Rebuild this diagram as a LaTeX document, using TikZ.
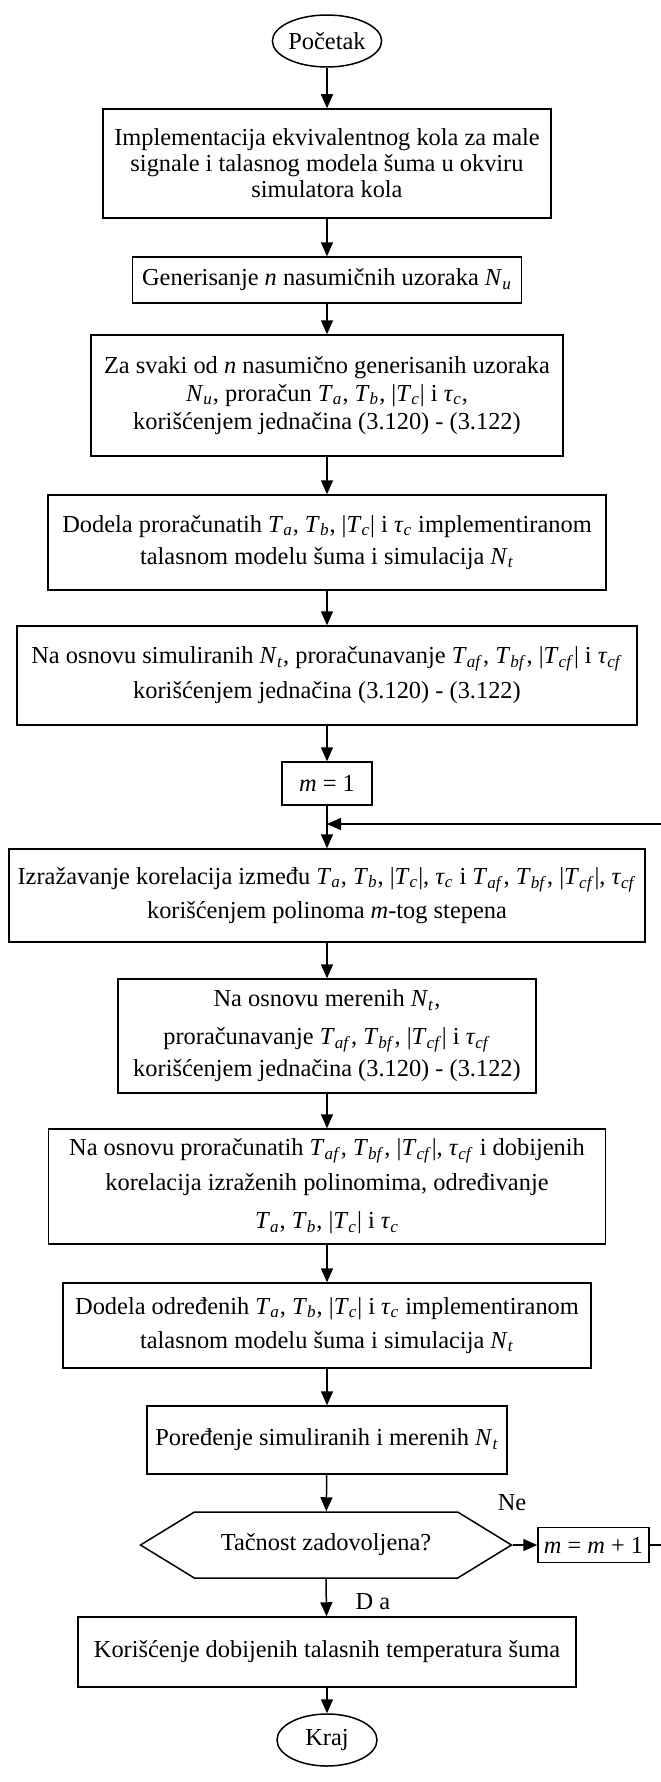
\documentclass[tikz,border=0pt]{standalone}
\usepackage{fontspec}
\setmainfont{Liberation Serif}
\usepackage{tikz}
\usetikzlibrary{arrows.meta,shapes,positioning,calc}

\newcommand{\vsub}[2]{\textit{#1}\textsubscript{\textit{#2}}}

\begin{document}
\begin{tikzpicture}[
            x=0.5pt, y=-0.5pt,
            every node/.style={font=\fontsize{12.2pt}{13pt}\selectfont, align=center, inner sep=0pt},
            box/.style={draw, rectangle, line width=0.75pt},
            term/.style={draw, ellipse, line width=0.75pt, minimum width=50pt, minimum height=26pt},
            decision/.style={draw, signal, signal to=west and east, signal pointer angle=63, line width=0.75pt},
            arr/.style={-{Triangle[length=7pt,width=6pt]}, line width=0.75pt}
        ]

\useasboundingbox (0,0) rectangle (660,1782);

% nodes
            \node[term] (start) at (327,41) {Početak};
            \node[box, minimum width=224pt, minimum height=54.5pt] (b1) at (327,163.5)
                {Implementacija ekvivalentnog kola za male\\ signale i talasnog modela šuma u okviru\\ simulatora kola};
            \node[box, minimum width=194.5pt, minimum height=23pt] (b2) at (327,280)
                {Generisanje \textit{n} nasumičnih uzoraka \vsub{N}{u}};
            \node[box, minimum width=236pt, minimum height=60.5pt] (b3) at (327,395.5)
                {Za svaki od \textit{n} nasumično generisanih uzoraka\\[1pt] \vsub{N}{u}, proračun \vsub{T}{a}, \vsub{T}{b}, |\vsub{T}{c}| i \vsub{τ}{c},\\[1pt] korišćenjem jednačina (3.120) - (3.122)};
            \node[box, minimum width=279pt, minimum height=47.5pt] (b4) at (327,542.5)
                {Dodela proračunatih \vsub{T}{a}, \vsub{T}{b}, |\vsub{T}{c}| i \vsub{τ}{c} implementiranom\\[3pt] talasnom modelu šuma i simulacija \vsub{N}{t}};
            \node[box, minimum width=310pt, minimum height=49.5pt] (b5) at (327,675.5)
                {Na osnovu simuliranih \vsub{N}{t}, proračunavanje \vsub{T}{af}, \vsub{T}{bf}, |\vsub{T}{cf}| i \vsub{τ}{cf}\\[4.5pt] korišćenjem jednačina (3.120) - (3.122)};
            \node[box, minimum width=45pt, minimum height=21.5pt] (b6) at (327,783.5) {\textit{m} = 1};
            \node[box, minimum width=318pt, minimum height=46.5pt] (b7) at (327,895.5)
                {Izražavanje korelacija između \vsub{T}{a}, \vsub{T}{b}, |\vsub{T}{c}|, \vsub{τ}{c} i \vsub{T}{af}, \vsub{T}{bf}, |\vsub{T}{cf}|, \vsub{τ}{cf}\\[4pt] korišćenjem polinoma \textit{m}-tog stepena};
            \node[box, minimum width=209pt, minimum height=57pt] (b8) at (327,1036)
                {Na osnovu merenih \vsub{N}{t},\\[6pt] proračunavanje \vsub{T}{af}, \vsub{T}{bf}, |\vsub{T}{cf}| i \vsub{τ}{cf}\\[3pt] korišćenjem jednačina (3.120) - (3.122)};
            \node[box, minimum width=278.5pt, minimum height=57.5pt] (b9) at (327,1186.5)
                {Na osnovu proračunatih \vsub{T}{af}, \vsub{T}{bf}, |\vsub{T}{cf}|, \vsub{τ}{cf} i dobijenih\\[4.5pt] korelacija izraženih polinomima, određivanje\\[6pt] \vsub{T}{a}, \vsub{T}{b}, |\vsub{T}{c}| i \vsub{τ}{c}};
            \node[box, minimum width=264pt, minimum height=42.5pt] (b10) at (327,1325.5)
                {Dodela određenih \vsub{T}{a}, \vsub{T}{b}, |\vsub{T}{c}| i \vsub{τ}{c} implementiranom\\[4pt] talasnom modelu šuma i simulacija \vsub{N}{t}};
            \node[box, minimum width=180pt, minimum height=34pt] (b11) at (327,1440)
                {Poređenje simuliranih i merenih \vsub{N}{t}};
            \node[decision, minimum width=185.5pt, minimum height=33pt] (dec) at (326,1545)
                {Tačnost zadovoljena?};
            \node[box, minimum width=55.5pt, minimum height=17.5pt] (b13) at (593.5,1545)
                {\textit{m} = \textit{m} + 1};
            \node[box, minimum width=249pt, minimum height=35pt] (b12) at (327,1652)
                {Korišćenje dobijenih talasnih temperatura šuma};
            \node[term] (stop) at (327,1740) {Kraj};

% loop corners
            \coordinate (rt) at (666,1545);
            \coordinate (rb) at (666,824);
            \coordinate (jn) at (327,824);

% arrows
            \draw[arr] (start) -- (b1);
            \draw[arr] (b1) -- (b2);
            \draw[arr] (b2) -- (b3);
            \draw[arr] (b3) -- (b4);
            \draw[arr] (b4) -- (b5);
            \draw[arr] (b5) -- (b6);
            \draw[arr] (b6) -- (b7);
            \draw[arr] (b7) -- (b8);
            \draw[arr] (b8) -- (b9);
            \draw[arr] (b9) -- (b10);
            \draw[arr] (b10) -- (b11);
            \draw[arr] (b11) -- (dec);
            \draw[arr] (dec.east) -- (b13.west);
            \draw[arr] (dec.south) -- (b12);
            \draw[arr] (b12) -- (stop);
            \draw[arr] (b13.east) -- (rt) -- (rb) -- (jn);

% labels
            \node at (512,1503) {Ne};
            \node at (373,1602) {D a};

        \end{tikzpicture}
\end{document}
